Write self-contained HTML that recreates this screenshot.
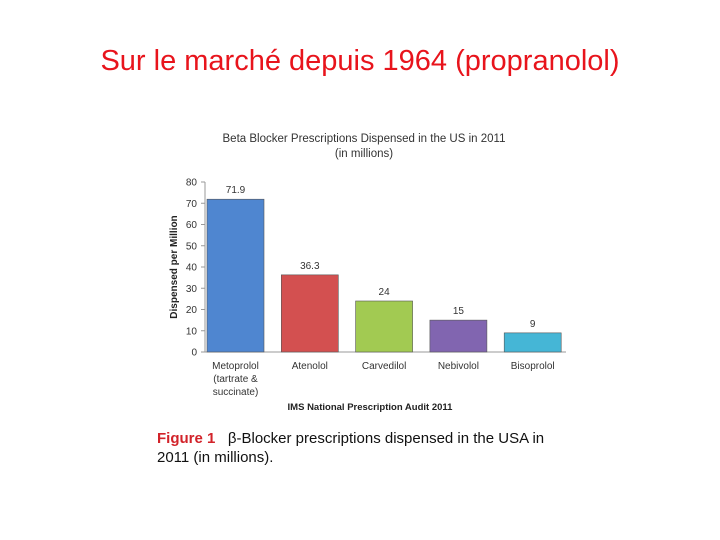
<!DOCTYPE html>
<html><head><meta charset="utf-8"><style>
body{margin:0;width:720px;height:540px;background:#fff;position:relative;overflow:hidden;font-family:"Liberation Sans",sans-serif}
#title{position:absolute;left:0;width:720px;top:45px;text-align:center;color:#e8141c;font-size:29px}
#cap{position:absolute;left:157px;top:429px;font-size:15px;color:#111;line-height:19px}
</style></head><body>
<div id="title">Sur le marché depuis 1964 (propranolol)</div>
<svg id="chart" width="720" height="540" style="position:absolute;left:0;top:0" font-family="Liberation Sans, sans-serif"></svg>
<div id="cap"><b style="color:#d2232a">Figure 1</b>&nbsp;&nbsp;&nbsp;β-Blocker prescriptions dispensed in the USA in<br>2011 (in millions).</div>
<script>
const categories=["Metoprolol","Atenolol","Carvedilol","Nebivolol","Bisoprolol"];
const values=[71.9,36.3,24,15,9];
const valueLabels=["71.9","36.3","24","15","9"];
const yTicks=[0,10,20,30,40,50,60,70,80];
const colors=["#4f86d0","#d35050","#a2ca52","#8165b0","#45b6d6"];
const svg=document.getElementById('chart');const NS='http://www.w3.org/2000/svg';
function mk(t,a,txt){const e=document.createElementNS(NS,t);for(const k in a)e.setAttribute(k,a[k]);if(txt!==undefined)e.textContent=txt;svg.appendChild(e);return e;}
const x0=205,x1=566,y0=352,y80=182;
const y=v=>y0-(v/80)*(y0-y80);
const band=74.3;
const bx=i=>x0+i*band;
let e;
e=mk('text',{x:364,y:142,'text-anchor':'middle','font-size':11.5,fill:'#333'},'Beta Blocker Prescriptions Dispensed in the US in 2011');

e=mk('text',{x:364,y:157,'text-anchor':'middle','font-size':11.5,fill:'#333'},'(in millions)');

yTicks.forEach(t=>{const l=mk('text',{x:197,y:y(t)+3.5,'text-anchor':'end','font-size':10,fill:'#333'},t);

const tk=mk('line',{x1:201,x2:205,y1:y(t),y2:y(t),stroke:'#999'});
});
e=mk('line',{x1:x0,x2:x0,y1:y80,y2:y0,stroke:'#999'});

e=mk('line',{x1:x0,x2:x1,y1:y0,y2:y0,stroke:'#999'});

e=mk('text',{x:177,y:267,'text-anchor':'middle','font-size':10,'font-weight':'bold',fill:'#222',transform:'rotate(-90 177 267)'},'Dispensed per Million');

values.forEach((v,i)=>{const bw=57,x=bx(i)+2;
const r=mk('rect',{x:x,y:y(v),width:bw,height:y0-y(v),fill:colors[i],stroke:'#555','stroke-width':0.6});

const t=mk('text',{x:x+bw/2,y:y(v)-6,'text-anchor':'middle','font-size':10,fill:'#333'},valueLabels[i]);

const c=mk('text',{x:x+bw/2,y:369,'text-anchor':'middle','font-size':10,fill:'#333'},categories[i]);
});
[["(tartrate &",382],["succinate)",395]].forEach(([s,yy])=>{const c=mk('text',{x:bx(0)+2+28.5,y:yy,'text-anchor':'middle','font-size':10,fill:'#333'},s);
});
e=mk('text',{x:370,y:410,'text-anchor':'middle','font-size':9.5,'font-weight':'bold',fill:'#222'},'IMS National Prescription Audit 2011');

</script>
</body></html>
